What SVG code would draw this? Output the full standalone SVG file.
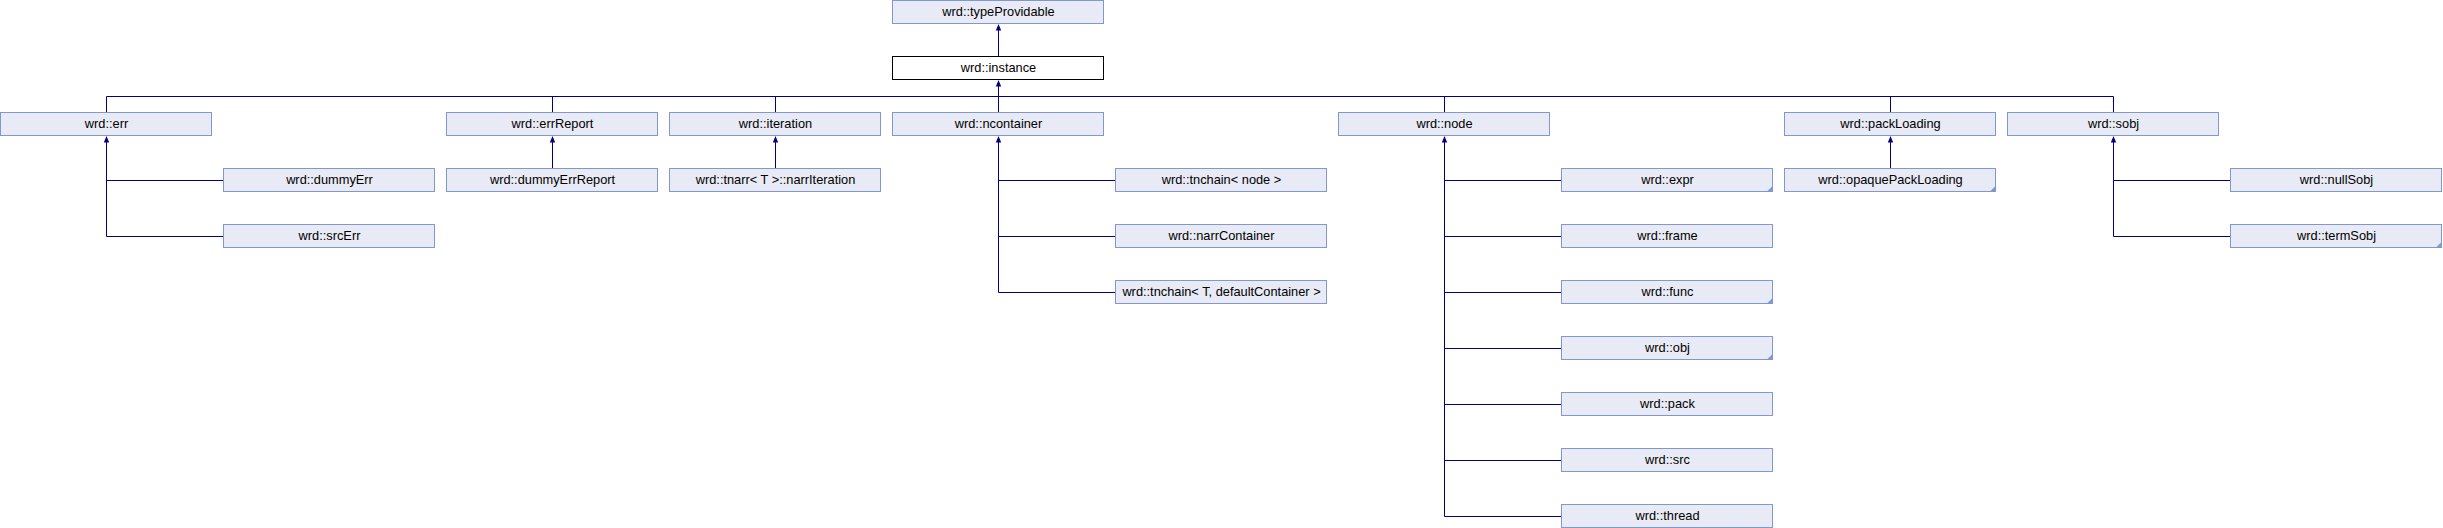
<svg xmlns="http://www.w3.org/2000/svg" xmlns:xlink="http://www.w3.org/1999/xlink" width="2443" height="528" viewBox="0 0 2443 528">
<style>
.n rect{fill:#E8EBF5;stroke:#8098CF;stroke-width:1}
.cur rect{fill:#FFFFFF;stroke:#000000;stroke-width:1}
.n text,.cur text{font-family:"Liberation Sans",Arial,sans-serif;font-size:12.8px;fill:#000000;text-anchor:middle}
.fold{fill:#8098CF}
.edges path{fill:none;stroke:#000080;stroke-width:1}
.edges use{fill:#000080}
</style>
<defs>
<path id="ah" d="M0,0 L-2.7,6.5 L2.7,6.5 Z"/>
</defs>
<rect x="0" y="0" width="2443" height="528" fill="#FFFFFF"/>
<g class="edges" id="connectors">
<path d="M998.5,56.5 V27"/><use xlink:href="#ah" x="998.5" y="24"/>
<path d="M106.5,96.5 H2113.5"/>
<path d="M106.5,96.5 V112.5 M552.5,96.5 V112.5 M775.5,96.5 V112.5 M1444.5,96.5 V112.5 M1890.5,96.5 V112.5 M2113.5,96.5 V112.5"/>
<path d="M998.5,112.5 V83"/><use xlink:href="#ah" x="998.5" y="80"/>
<path d="M106.5,139 V236.5 M106.5,180.5 H223.5 M106.5,236.5 H223.5"/><use xlink:href="#ah" x="106.5" y="136"/>
<path d="M552.5,168.5 V139"/><use xlink:href="#ah" x="552.5" y="136"/>
<path d="M775.5,168.5 V139"/><use xlink:href="#ah" x="775.5" y="136"/>
<path d="M998.5,139 V292.5 M998.5,180.5 H1115.5 M998.5,236.5 H1115.5 M998.5,292.5 H1115.5"/><use xlink:href="#ah" x="998.5" y="136"/>
<path d="M1444.5,139 V516.5 M1444.5,180.5 H1561.5 M1444.5,236.5 H1561.5 M1444.5,292.5 H1561.5 M1444.5,348.5 H1561.5 M1444.5,404.5 H1561.5 M1444.5,460.5 H1561.5 M1444.5,516.5 H1561.5"/><use xlink:href="#ah" x="1444.5" y="136"/>
<path d="M1890.5,168.5 V139"/><use xlink:href="#ah" x="1890.5" y="136"/>
<path d="M2113.5,139 V236.5 M2113.5,180.5 H2230.5 M2113.5,236.5 H2230.5"/><use xlink:href="#ah" x="2113.5" y="136"/>
</g>
<g class="n" id="typeProvidable"><rect x="892.5" y="0.5" width="211" height="23"/><text x="998.5" y="15.5">wrd::typeProvidable</text></g>
<g class="cur" id="instance"><rect x="892.5" y="56.5" width="211" height="23"/><text x="998.5" y="71.5">wrd::instance</text></g>
<g class="n" id="err"><rect x="0.5" y="112.5" width="211" height="23"/><text x="106.5" y="127.5">wrd::err</text></g>
<g class="n" id="errReport"><rect x="446.5" y="112.5" width="211" height="23"/><text x="552.5" y="127.5">wrd::errReport</text></g>
<g class="n" id="iteration"><rect x="669.5" y="112.5" width="211" height="23"/><text x="775.5" y="127.5">wrd::iteration</text></g>
<g class="n" id="ncontainer"><rect x="892.5" y="112.5" width="211" height="23"/><text x="998.5" y="127.5">wrd::ncontainer</text></g>
<g class="n" id="node"><rect x="1338.5" y="112.5" width="211" height="23"/><text x="1444.5" y="127.5">wrd::node</text></g>
<g class="n" id="packLoading"><rect x="1784.5" y="112.5" width="211" height="23"/><text x="1890.5" y="127.5">wrd::packLoading</text></g>
<g class="n" id="sobj"><rect x="2007.5" y="112.5" width="211" height="23"/><text x="2113.5" y="127.5">wrd::sobj</text></g>
<g class="n" id="dummyErr"><rect x="223.5" y="168.5" width="211" height="23"/><text x="329.5" y="183.5">wrd::dummyErr</text></g>
<g class="n" id="srcErr"><rect x="223.5" y="224.5" width="211" height="23"/><text x="329.5" y="239.5">wrd::srcErr</text></g>
<g class="n" id="dummyErrReport"><rect x="446.5" y="168.5" width="211" height="23"/><text x="552.5" y="183.5">wrd::dummyErrReport</text></g>
<g class="n" id="narrIteration"><rect x="669.5" y="168.5" width="211" height="23"/><text x="775.5" y="183.5">wrd::tnarr&lt; T &gt;::narrIteration</text></g>
<g class="n" id="tnchainNode"><rect x="1115.5" y="168.5" width="211" height="23"/><text x="1221.5" y="183.5">wrd::tnchain&lt; node &gt;</text></g>
<g class="n" id="narrContainer"><rect x="1115.5" y="224.5" width="211" height="23"/><text x="1221.5" y="239.5">wrd::narrContainer</text></g>
<g class="n" id="tnchainT"><rect x="1115.5" y="280.5" width="211" height="23"/><text x="1221.5" y="295.5">wrd::tnchain&lt; T, defaultContainer &gt;</text></g>
<g class="n" id="expr"><rect x="1561.5" y="168.5" width="211" height="23"/><polygon class="fold" points="1772.5,186 1772.5,191.5 1767,191.5"/><text x="1667.5" y="183.5">wrd::expr</text></g>
<g class="n" id="frame"><rect x="1561.5" y="224.5" width="211" height="23"/><text x="1667.5" y="239.5">wrd::frame</text></g>
<g class="n" id="func"><rect x="1561.5" y="280.5" width="211" height="23"/><polygon class="fold" points="1772.5,298 1772.5,303.5 1767,303.5"/><text x="1667.5" y="295.5">wrd::func</text></g>
<g class="n" id="obj"><rect x="1561.5" y="336.5" width="211" height="23"/><polygon class="fold" points="1772.5,354 1772.5,359.5 1767,359.5"/><text x="1667.5" y="351.5">wrd::obj</text></g>
<g class="n" id="pack"><rect x="1561.5" y="392.5" width="211" height="23"/><text x="1667.5" y="407.5">wrd::pack</text></g>
<g class="n" id="src"><rect x="1561.5" y="448.5" width="211" height="23"/><text x="1667.5" y="463.5">wrd::src</text></g>
<g class="n" id="thread"><rect x="1561.5" y="504.5" width="211" height="23"/><text x="1667.5" y="519.5">wrd::thread</text></g>
<g class="n" id="opaquePackLoading"><rect x="1784.5" y="168.5" width="211" height="23"/><polygon class="fold" points="1995.5,186 1995.5,191.5 1990,191.5"/><text x="1890.5" y="183.5">wrd::opaquePackLoading</text></g>
<g class="n" id="nullSobj"><rect x="2230.5" y="168.5" width="211" height="23"/><text x="2336.5" y="183.5">wrd::nullSobj</text></g>
<g class="n" id="termSobj"><rect x="2230.5" y="224.5" width="211" height="23"/><polygon class="fold" points="2441.5,242 2441.5,247.5 2436,247.5"/><text x="2336.5" y="239.5">wrd::termSobj</text></g>
</svg>
